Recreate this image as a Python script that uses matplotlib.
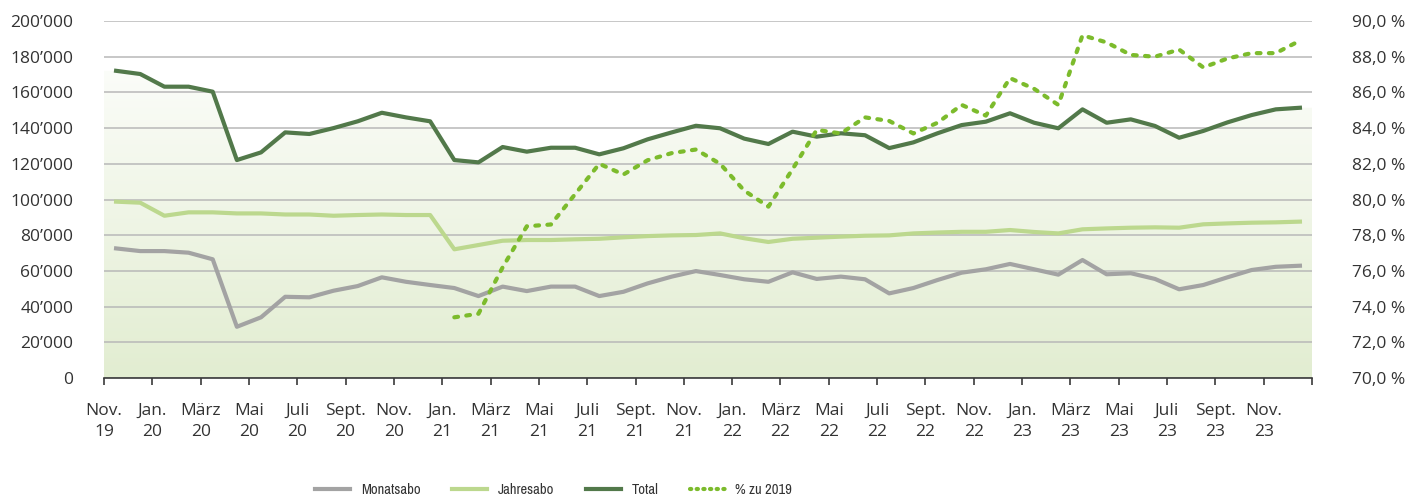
import numpy as np
import matplotlib
matplotlib.use("Agg")
import matplotlib.pyplot as plt
from matplotlib import font_manager as fm
from matplotlib.lines import Line2D
from matplotlib.colors import LinearSegmentedColormap
from matplotlib.ticker import FuncFormatter, MultipleLocator

plt.rcParams['font.family'] = ['Open Sans', 'DejaVu Sans']

# ---- data (thousands of subscriptions, monthly Nov 2019 - Dec 2023) ----
monatsabo = [72.6, 71.1, 71.1, 70.2, 66.5, 28.7, 34.0, 45.5, 45.2, 48.9, 51.5, 56.4, 53.9, 52.1, 50.4, 45.9,
             51.2, 48.7, 51.2, 51.2, 45.9, 48.3, 53.0, 56.8, 59.9, 57.7, 55.3, 53.9, 59.2, 55.5, 56.8, 55.3, 47.4, 50.4,
             54.9, 59.0, 60.9, 63.9, 60.9, 57.9, 66.1, 58.1, 58.7, 55.5, 49.7, 52.1, 56.4, 60.5, 62.3, 62.9]
jahresabo = [98.8, 98.2, 90.9, 92.8, 92.8, 92.2, 92.2, 91.6, 91.6, 90.9, 91.3, 91.6, 91.3, 91.3, 72.1, 74.5,
             76.9, 77.3, 77.3, 77.7, 78.0, 78.8, 79.5, 79.9, 80.1, 81.0, 78.3, 76.2, 78.0, 78.6, 79.2, 79.7, 79.9, 81.0,
             81.5, 81.9, 81.9, 82.9, 81.8, 81.0, 83.3, 83.8, 84.2, 84.4, 84.2, 86.1, 86.6, 87.0, 87.2, 87.6]
total = [172.1, 170.3, 163.2, 163.2, 160.4, 122.1, 126.4, 137.6, 136.7, 140.0, 143.8, 148.6, 146.0, 143.8, 122.1, 120.8,
         129.4, 126.8, 129.0, 129.0, 125.3, 128.7, 133.7, 137.6, 141.3, 139.9, 134.1, 131.1, 138.0, 135.2, 137.1, 136.0, 128.8, 132.0,
         137.1, 141.7, 143.6, 148.3, 143.0, 139.9, 150.5, 143.0, 144.9, 141.2, 134.6, 138.4, 143.2, 147.3, 150.5, 151.4]
pct_2019 = [np.nan] * 14 + [73.4, 73.6, 76.2, 78.5, 78.6, 80.3, 82.0, 81.4, 82.2, 82.6, 82.8, 82.0, 80.5, 79.6,
                            81.7, 83.9, 83.7, 84.6, 84.4, 83.7, 84.3, 85.3, 84.7, 86.8, 86.2, 85.3, 89.2, 88.8,
                            88.1, 88.0, 88.4, 87.4, 87.9, 88.2, 88.2, 88.9]
tick_labels = ["Nov.\n19", "Jan.\n20", "März\n20", "Mai\n20", "Juli\n20", "Sept.\n20",
               "Nov.\n20", "Jan.\n21", "März\n21", "Mai\n21", "Juli\n21", "Sept.\n21",
               "Nov.\n21", "Jan.\n22", "März\n22", "Mai\n22", "Juli\n22", "Sept.\n22",
               "Nov.\n22", "Jan.\n23", "März\n23", "Mai\n23", "Juli\n23", "Sept.\n23", "Nov.\n23"]
series_names = ["Monatsabo", "Jahresabo", "Total", "% zu 2019"]

# ---- styles ----
c_mon = "#a3a3a3"
c_jah = "#bcd88e"
c_tot = "#52794a"
c_pct = "#7cbb2c"
txt_c = "#333333"

# pick a condensed font for the legend if one is installed
leg_font = None
for f in fm.fontManager.ttflist:
    nm = f.name.lower()
    if ('narrow' in nm or 'condensed' in nm) and f.style == 'normal' and f.weight in (400, 'normal', 'regular'):
        leg_font = fm.FontProperties(fname=f.fname, size=10.5)
        break
if leg_font is None:
    for f in fm.fontManager.ttflist:
        if f.stretch in ('condensed', 'semi-condensed', 'extra-condensed') and f.style == 'normal' \
                and f.weight in (400, 'normal', 'regular'):
            leg_font = fm.FontProperties(fname=f.fname, size=10.5)
            break
if leg_font is None:
    leg_font = fm.FontProperties(family='Open Sans', size=9.5)

n = len(total)
x = np.arange(n)
mon = np.array(monatsabo) * 1000
jah = np.array(jahresabo) * 1000
tot = np.array(total) * 1000
pct = np.array(pct_2019, dtype=float)

fig = plt.figure(figsize=(14.13, 5.03), dpi=100)
ax = fig.add_axes([104 / 1413, 1 - 378 / 503, (1312 - 104) / 1413, (378 - 21) / 503])
ax.set_xlim(-0.5, n - 0.5)
ax.set_ylim(0, 200000)

# gradient area under total
cmap = LinearSegmentedColormap.from_list("g", ["#ffffff", "#e2edd1"])
grad = np.linspace(1, 0, 256).reshape(-1, 1)
im = ax.imshow(grad, extent=[-0.5, n - 0.5, 0, 200000], origin='lower', aspect='auto',
               cmap=cmap, vmin=0, vmax=1, zorder=0.5, interpolation='bilinear')
xx = np.r_[-0.5, x, n - 0.5]
yy = np.r_[tot[0], tot, tot[-1]]
poly = ax.fill_between(xx, yy, 0, facecolor='none', edgecolor='none')
im.set_clip_path(poly.get_paths()[0], transform=ax.transData)

ax.yaxis.set_major_locator(MultipleLocator(20000))
ax.grid(axis='y', color='#b8b8b8', lw=1.1, zorder=1)
ax.set_axisbelow(False)
for s in ['top', 'right', 'left']:
    ax.spines[s].set_visible(False)
ax.spines['bottom'].set_color('#3a3a3a')
ax.spines['bottom'].set_linewidth(1.2)
ax.spines['bottom'].set_zorder(3)

ax.yaxis.set_major_formatter(FuncFormatter(lambda v, p: f"{int(v):,}".replace(",", "\u2019")))
ax.tick_params(axis='y', length=0, pad=22, labelsize=12.5, labelcolor=txt_c)

tick_pos = list(np.arange(0, len(tick_labels)) * 2 - 0.5)
ax.set_xticks(tick_pos + [n - 0.5])
ax.set_xticklabels(tick_labels + [""], linespacing=1.45)
ax.tick_params(axis='x', length=5, width=1.2, color='#3a3a3a', pad=13, labelsize=12.5, labelcolor=txt_c)

ax.plot(x, mon, color=c_mon, lw=3, zorder=4, solid_joinstyle='round')
ax.plot(x, jah, color=c_jah, lw=3, zorder=4, solid_joinstyle='round')
ax.plot(x, tot, color=c_tot, lw=3, zorder=5, solid_joinstyle='round')

ax2 = ax.twinx()
ax2.set_ylim(70, 90)
ax2.yaxis.set_major_locator(MultipleLocator(2))
ax2.yaxis.set_major_formatter(FuncFormatter(lambda v, p: f"{v:.1f} %".replace(".", ",")))
ax2.tick_params(axis='y', length=0, pad=29, labelsize=12.5, labelcolor=txt_c)
for s in ax2.spines.values():
    s.set_visible(False)
ax2.plot(x, pct, color=c_pct, lw=3, linestyle=(0, (0.9, 2.0)), dash_capstyle='round', zorder=6)

handles = [Line2D([], [], color=c_mon, lw=3),
           Line2D([], [], color=c_jah, lw=3),
           Line2D([], [], color=c_tot, lw=3),
           Line2D([], [], color=c_pct, lw=3, linestyle=(0, (0.3, 1.3)), dash_capstyle='round')]
fig.legend(handles, series_names, loc='center', bbox_to_anchor=(0.392, 0.025), ncol=4, frameon=False,
           handlelength=2.4, handletextpad=0.7, columnspacing=2.2,
           prop=leg_font, labelcolor=txt_c)

fig.savefig("out.png", dpi=100)
